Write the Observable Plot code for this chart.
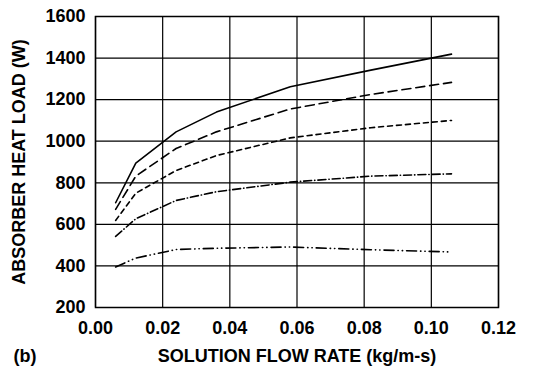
<!DOCTYPE html>
<html><head><meta charset="utf-8">
<script src="https://cdn.jsdelivr.net/npm/d3@7"></script>
<script src="https://cdn.jsdelivr.net/npm/@observablehq/plot@0.6"></script>
<style>body{margin:0;background:#fff} svg{display:block}</style>
</head><body><div id="chart"></div>
<script>
const flowRate = [0.006, 0.012, 0.024, 0.036, 0.058, 0.082, 0.106];
const loadA = [704, 895, 1045, 1140, 1262, 1342, 1419];
const loadB = [672, 832, 965, 1045, 1155, 1225, 1283];
const loadC = [619, 750, 859, 931, 1016, 1065, 1100];
const loadD = [542, 627, 715, 757, 803, 832, 843];
const loadE = [395, 438, 479, 485, 491, 478, 467];
const xTicks = [0, 0.02, 0.04, 0.06, 0.08, 0.10, 0.12];
const yTicks = [200, 400, 600, 800, 1000, 1200, 1400, 1600];
const xTitle = "SOLUTION FLOW RATE (kg/m-s)";
const yTitle = "ABSORBER HEAT LOAD (W)";
const panelTag = "(b)";

const allSeries = [
  {values: loadA, dash: null},
  {values: loadB, dash: "9,5"},
  {values: loadC, dash: "5,4"},
  {values: loadD, dash: "8,3,0.3,3"},
  {values: loadE, dash: "10,4,0.3,4,0.3,4"}
];
const tables = allSeries.map(s => flowRate.map((x, i) => ({x, y: s.values[i]})));

const chart = Plot.plot({
  width: 542, height: 371,
  marginLeft: 95, marginRight: 44, marginTop: 16, marginBottom: 64,
  style: {fontFamily: "'Liberation Sans', Arial, sans-serif", fontWeight: "bold", fontSize: "18px", color: "black", background: "white", overflow: "visible"},
  x: {domain: [0, 0.12], ticks: xTicks, tickFormat: d => d.toFixed(2), label: null, tickSize: 0, tickPadding: 14},
  y: {domain: [200, 1600], ticks: yTicks, tickFormat: d => String(d), label: null, tickSize: 0, tickPadding: 10},
  marks: [
    Plot.ruleX(xTicks, {stroke: "black", strokeWidth: 1.2}),
    Plot.ruleY(yTicks, {stroke: "black", strokeWidth: 1.2}),
    Plot.frame({stroke: "black", strokeWidth: 1.5}),
    ...tables.map((t, i) => Plot.line(t, {x: "x", y: "y", stroke: "black", strokeWidth: 1.6, strokeDasharray: allSeries[i].dash})),
    Plot.text([yTitle], {frameAnchor: "left", dx: -76, rotate: -90, text: d => d, textAnchor: "middle", lineAnchor: "middle", fontSize: 18, fontWeight: "bold"}),
    Plot.text([xTitle], {frameAnchor: "bottom", dy: 49, text: d => d, textAnchor: "middle", lineAnchor: "middle", fontSize: 18, fontWeight: "bold"}),
    Plot.text([panelTag], {frameAnchor: "bottom-left", dx: -82, dy: 49, text: d => d, textAnchor: "start", lineAnchor: "middle", fontSize: 18, fontWeight: "bold"})
  ]
});
document.getElementById("chart").appendChild(chart);
</script>
</body></html>
